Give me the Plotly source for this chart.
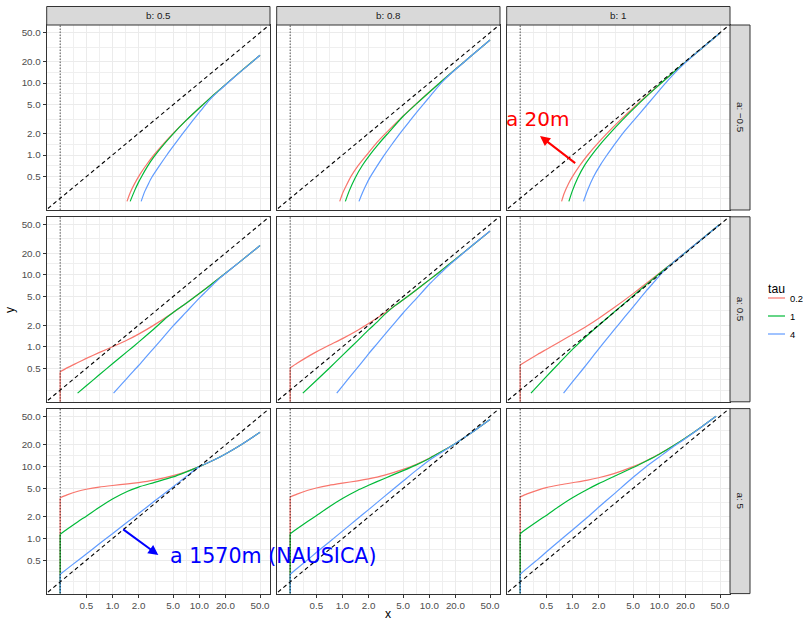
import plotly.graph_objects as go

# ---------------- data ----------------
A_LEVELS = ["a: \u22120.5", "a: 0.5", "a: 5"]
B_LEVELS = ["b: 0.5", "b: 0.8", "b: 1"]
TAU_LEVELS = ["0.2", "1", "4"]
TAU_COLORS = ["#F8766D", "#00BA38", "#619CFF"]

TICK_VALS = [0.5, 1, 2, 5, 10, 20, 50]
TICK_TEXT = ["0.5", "1.0", "2.0", "5.0", "10.0", "20.0", "50.0"]
MINOR_VALS = [0.25, 0.354, 0.707, 1.414, 3.162, 7.071, 14.14, 31.62]

X0_LINE = 0.25            # dotted vertical reference
DIAG = [0.05, 100]        # y = x reference
FLOOR = 0.01              # value below the panel floor (drop at x = 0.25)

# ----- a = -0.5 -----
am_b05_t02_x = [1.47, 1.6, 1.8, 2.1, 2.5, 3.0, 4.0, 5.0, 7.0, 10, 14.5, 20, 30, 50]
am_b05_t02_y = [0.227, 0.30, 0.40, 0.55, 0.75, 1.0, 1.5, 2.0, 3.0, 4.5, 6.75, 9.5, 14.5, 24.3]
am_b05_t1_x = [1.6, 1.8, 2.0, 2.2, 2.5, 3.0, 4.0, 5.0, 7.0, 10, 14.5, 20, 30, 50]
am_b05_t1_y = [0.227, 0.32, 0.42, 0.52, 0.68, 0.94, 1.45, 1.97, 3.0, 4.5, 6.75, 9.5, 14.5, 24.3]
am_b05_t4_x = [2.14, 2.35, 2.6, 2.84, 3.45, 4.23, 5.3, 6.46, 8.3, 10, 11.5, 13, 14.5, 17, 20, 30, 50]
am_b05_t4_y = [0.227, 0.31, 0.4, 0.49, 0.7, 1.0, 1.45, 2.0, 2.95, 3.9, 4.8, 5.75, 6.6, 7.9, 9.4, 14.4, 24.3]

am_b08_t02_x = [0.93, 1.0, 1.1, 1.25, 1.5, 1.9, 2.5, 3.2, 5.0, 7.0, 10, 14.5, 20, 30, 50]
am_b08_t02_y = [0.227, 0.29, 0.37, 0.5, 0.7, 1.0, 1.5, 2.05, 3.5, 5.1, 7.5, 11.1, 15.5, 23.5, 39.5]
am_b08_t1_x = [1.08, 1.2, 1.4, 1.7, 2.1, 2.6, 3.4, 5.0, 7.0, 10, 14.5, 20, 30, 50]
am_b08_t1_y = [0.227, 0.32, 0.48, 0.72, 1.03, 1.42, 2.05, 3.45, 5.05, 7.45, 11.1, 15.5, 23.5, 39.5]
am_b08_t4_x = [1.55, 1.7, 1.9, 2.1, 2.5, 3.0, 3.7, 4.6, 6.0, 7.5, 9.5, 12, 14.5, 17, 20, 30, 50]
am_b08_t4_y = [0.227, 0.3, 0.4, 0.5, 0.7, 0.98, 1.4, 2.0, 3.0, 4.2, 5.9, 8.3, 10.7, 12.9, 15.4, 23.5, 39.5]

am_b1_t02_x = [0.75, 0.8, 0.9, 1.0, 1.2, 1.5, 2.0, 2.5, 3.5, 5.5, 8, 10, 14.5, 20, 30, 50]
am_b1_t02_y = [0.227, 0.29, 0.4, 0.5, 0.7, 1.0, 1.5, 2.0, 3.0, 5.0, 7.5, 9.5, 14, 19.5, 29.5, 49.5]
am_b1_t1_x = [0.91, 1.0, 1.15, 1.4, 1.7, 2.1, 2.7, 3.7, 5.7, 8, 10, 14.5, 20, 30, 50]
am_b1_t1_y = [0.227, 0.32, 0.48, 0.74, 1.03, 1.42, 2.0, 3.0, 5.05, 7.4, 9.45, 14, 19.5, 29.5, 49.5]
am_b1_t4_x = [1.34, 1.5, 1.75, 2.1, 2.5, 3.0, 3.8, 5.0, 7.2, 10, 12.5, 16, 20, 30, 50]
am_b1_t4_y = [0.227, 0.33, 0.5, 0.73, 1.0, 1.36, 2.0, 2.95, 4.95, 7.9, 10.8, 14.9, 19.3, 29.5, 49.5]

# ----- a = 0.5 -----
X_DROP = [0.25, 0.25, 0.3, 0.4, 0.5, 0.7, 1.0, 1.5, 2.0, 3.0, 5.0, 7.0, 10, 14.5, 20, 30, 50]
X_DROP_END = [0.25, 0.25, 0.3, 0.4, 0.5, 0.7, 1.0, 1.5, 2.0, 3.0, 5.0, 7.0, 10, 14.5, 20, 30, 49.5]

ap_b05_t02_y = [FLOOR, 0.45, 0.51, 0.605, 0.69, 0.83, 1.0, 1.25, 1.5, 2.0, 3.0, 4.0, 5.5, 7.75, 10.5, 15.5, 25.5]
ap_b05_t1_x = [0.397, 0.5, 0.7, 1.0, 1.5, 2.0, 3.0, 4.2, 5.0, 7.0, 10, 14.5, 20, 30, 50]
ap_b05_t1_y = [0.227, 0.287, 0.405, 0.58, 0.87, 1.16, 1.77, 2.55, 3.0, 4.0, 5.5, 7.75, 10.5, 15.5, 25.5]
ap_b05_t4_x = [1.03, 1.3, 1.6, 2.0, 2.5, 3.0, 4.0, 5.0, 7.0, 10, 12, 14.5, 17, 20, 30, 50]
ap_b05_t4_y = [0.227, 0.31, 0.41, 0.55, 0.75, 0.96, 1.43, 1.95, 3.0, 4.75, 5.9, 7.4, 8.9, 10.45, 15.5, 25.5]

ap_b08_t02_y = [FLOOR, 0.51, 0.59, 0.73, 0.85, 1.05, 1.3, 1.7, 2.1, 2.9, 4.5, 6.1, 8.5, 12.1, 16.5, 24.5, 40.5]
ap_b08_t1_x = [0.35, 0.5, 0.7, 1.0, 1.5, 2.0, 2.5, 3.0, 4.0, 5.0, 7.0, 10, 14.5, 20, 30, 50]
ap_b08_t1_y = [0.227, 0.34, 0.5, 0.76, 1.22, 1.72, 2.2, 2.75, 3.7, 4.5, 6.1, 8.5, 12.1, 16.5, 24.5, 40.5]
ap_b08_t4_x = [0.86, 1.0, 1.3, 1.6, 2.0, 2.5, 3.0, 4.0, 5.0, 7.0, 10, 12, 14.5, 17, 20, 30, 50]
ap_b08_t4_y = [0.227, 0.285, 0.42, 0.57, 0.8, 1.1, 1.43, 2.15, 2.95, 4.6, 7.4, 9.2, 11.5, 13.7, 16.2, 24.5, 40.5]

ap_b1_t02_y = [FLOOR, 0.56, 0.64, 0.79, 0.92, 1.16, 1.48, 1.98, 2.48, 3.48, 5.48, 7.5, 10.5, 15, 20.5, 30.5, 50]
ap_b1_t1_x = [0.333, 0.5, 0.7, 1.0, 1.5, 2.0, 3.0, 5.0, 7.0, 10, 14.5, 20, 30, 49.5]
ap_b1_t1_y = [0.227, 0.385, 0.59, 0.92, 1.46, 1.98, 3.02, 5.1, 7.2, 10.35, 14.9, 20.4, 30.5, 50]
ap_b1_t4_x = [0.79, 1.0, 1.3, 1.6, 2.0, 2.5, 3.0, 4.0, 5.0, 7.0, 9.0, 10.5, 12, 14.5, 20, 30, 49.5]
ap_b1_t4_y = [0.227, 0.325, 0.48, 0.66, 0.93, 1.3, 1.7, 2.6, 3.6, 5.9, 8.3, 10.3, 12.1, 14.9, 20.5, 30.5, 50]

# ----- a = 5 -----
X_DROP_A5B1 = [0.25, 0.25, 0.3, 0.4, 0.5, 0.7, 1.0, 1.5, 2.0, 3.0, 5.0, 7.0, 10, 14.5, 20, 30, 45]

a5_b05_t02_y = [FLOOR, 3.7, 4.05, 4.55, 4.85, 5.2, 5.47, 5.75, 6.0, 6.5, 7.5, 8.5, 10, 12.25, 15, 20, 30]
a5_b05_t1_y = [FLOOR, 1.15, 1.35, 1.72, 2.05, 2.7, 3.55, 4.55, 5.2, 6.0, 7.2, 8.4, 10, 12.25, 15, 20, 30]
a5_b05_t4_y = [FLOOR, 0.32, 0.38, 0.497, 0.61, 0.84, 1.17, 1.71, 2.23, 3.27, 5.25, 7.22, 10, 12.25, 15, 20, 30]

a5_b08_t02_y = [FLOOR, 3.78, 4.15, 4.7, 5.05, 5.5, 5.9, 6.35, 6.75, 7.55, 9.15, 10.7, 13.1, 16.7, 21, 29, 45]
a5_b08_t1_y = [FLOOR, 1.17, 1.37, 1.74, 2.08, 2.75, 3.6, 4.7, 5.5, 6.8, 8.8, 10.5, 13.0, 16.7, 21, 29, 45]
a5_b08_t4_y = [FLOOR, 0.32, 0.385, 0.51, 0.64, 0.89, 1.27, 1.9, 2.53, 3.8, 6.3, 8.8, 12.3, 16.4, 21, 29, 45]

a5_b1_t02_y = [FLOOR, 3.8, 4.18, 4.72, 5.1, 5.55, 5.97, 6.5, 7.0, 8.0, 10.0, 12.0, 15.0, 19.5, 25, 35, 50]
a5_b1_t1_y = [FLOOR, 1.17, 1.38, 1.76, 2.1, 2.8, 3.7, 4.85, 5.8, 7.3, 9.7, 11.9, 14.9, 19.5, 25, 35, 50]
a5_b1_t4_y = [FLOOR, 0.32, 0.386, 0.515, 0.65, 0.92, 1.32, 2.0, 2.72, 4.15, 7.1, 9.9, 13.6, 18.9, 24.6, 35, 50]

CURVES = [  # row (a) -> column (b) -> tau -> (x, y)
    [
        [(am_b05_t02_x, am_b05_t02_y), (am_b05_t1_x, am_b05_t1_y), (am_b05_t4_x, am_b05_t4_y)],
        [(am_b08_t02_x, am_b08_t02_y), (am_b08_t1_x, am_b08_t1_y), (am_b08_t4_x, am_b08_t4_y)],
        [(am_b1_t02_x, am_b1_t02_y), (am_b1_t1_x, am_b1_t1_y), (am_b1_t4_x, am_b1_t4_y)],
    ],
    [
        [(X_DROP, ap_b05_t02_y), (ap_b05_t1_x, ap_b05_t1_y), (ap_b05_t4_x, ap_b05_t4_y)],
        [(X_DROP, ap_b08_t02_y), (ap_b08_t1_x, ap_b08_t1_y), (ap_b08_t4_x, ap_b08_t4_y)],
        [(X_DROP_END, ap_b1_t02_y), (ap_b1_t1_x, ap_b1_t1_y), (ap_b1_t4_x, ap_b1_t4_y)],
    ],
    [
        [(X_DROP, a5_b05_t02_y), (X_DROP, a5_b05_t1_y), (X_DROP, a5_b05_t4_y)],
        [(X_DROP, a5_b08_t02_y), (X_DROP, a5_b08_t1_y), (X_DROP, a5_b08_t4_y)],
        [(X_DROP_A5B1, a5_b1_t02_y), (X_DROP_A5B1, a5_b1_t1_y), (X_DROP_A5B1, a5_b1_t4_y)],
    ],
]

# ---------------- layout geometry (pixels) ----------------
W, H = 803, 622
COL_X = [(46.7, 270.0), (276.7, 500.0), (506.7, 730.0)]
ROW_Y = [(25.0, 210.0), (216.8, 401.8), (408.6, 593.6)]
XR = [-0.757, 1.814]
YR = [-0.764, 1.806]

def px(x):
    return x / W

def py(y):
    return 1 - y / H

FONT = "Liberation Sans, Arial, sans-serif"
CALLOUT_FONT = "DejaVu Sans, sans-serif"
fig = go.Figure()
layout = dict(
    template="none",
    width=W, height=H, margin=dict(l=0, r=0, t=0, b=0, pad=0, autoexpand=False),
    paper_bgcolor="white", plot_bgcolor="white", showlegend=False,
    font=dict(family=FONT, color="#000000"),
)
shapes, annotations = [], []


def label(x, y, text, size, color="#000000", xanchor="center", angle=0, family=FONT):
    annotations.append(dict(xref="paper", yref="paper", x=px(x), y=py(y), text=text,
                            showarrow=False, xanchor=xanchor, yanchor="middle",
                            textangle=angle, borderpad=0,
                            font=dict(size=size, color=color, family=family)))


for r in range(3):
    for c in range(3):
        k = r * 3 + c + 1
        xa = "x" if k == 1 else f"x{k}"
        ya = "y" if k == 1 else f"y{k}"
        for t in range(3):
            xs, ys = CURVES[r][c][t]
            start = 0
            if xs[0] == xs[1]:
                # vertical drop at the start (value falls to the panel floor)
                fig.add_trace(go.Scatter(x=xs[:2], y=ys[:2], mode="lines", xaxis=xa,
                                         yaxis=ya, line=dict(color=TAU_COLORS[t], width=1.2),
                                         hoverinfo="skip"))
                start = 1
            fig.add_trace(go.Scatter(x=xs[start:], y=ys[start:], mode="lines", xaxis=xa,
                                     yaxis=ya,
                                     line=dict(color=TAU_COLORS[t], width=1.2,
                                               shape="spline", smoothing=0.6),
                                     name=TAU_LEVELS[t], hoverinfo="skip"))
        fig.add_trace(go.Scatter(x=DIAG, y=DIAG, mode="lines", xaxis=xa, yaxis=ya,
                                 line=dict(color="black", width=1.1, dash="4px,3px"),
                                 hoverinfo="skip"))
        fig.add_trace(go.Scatter(x=[X0_LINE, X0_LINE], y=[0.05, 100], mode="lines",
                                 xaxis=xa, yaxis=ya,
                                 line=dict(color="black", width=1, dash="1px,2px"),
                                 hoverinfo="skip"))
        x0, x1 = COL_X[c]
        y0, y1 = ROW_Y[r]
        axcommon = dict(type="log", showline=True, mirror=True, linecolor="#333333",
                        linewidth=1, zeroline=False, showgrid=True, gridcolor="#EBEBEB",
                        gridwidth=1.1, tickvals=TICK_VALS, ticktext=TICK_TEXT,
                        tickfont=dict(size=9.8, color="#4D4D4D", family=FONT),
                        minor=dict(tickvals=MINOR_VALS, showgrid=True, gridcolor="#EFEFEF",
                                   gridwidth=0.7, ticks=""),
                        automargin=False, fixedrange=True)
        xname = "xaxis" if k == 1 else f"xaxis{k}"
        yname = "yaxis" if k == 1 else f"yaxis{k}"
        layout[xname] = dict(axcommon, domain=[px(x0), px(x1)], range=XR,
                             anchor=ya, showticklabels=(r == 2),
                             ticks="outside" if r == 2 else "", ticklen=3,
                             tickcolor="#333333")
        layout[yname] = dict(axcommon, domain=[py(y1), py(y0)], range=YR,
                             anchor=xa, showticklabels=(c == 0),
                             ticks="outside" if c == 0 else "", ticklen=3,
                             tickcolor="#333333")

# strips
for c in range(3):
    x0, x1 = COL_X[c]
    shapes.append(dict(type="rect", xref="paper", yref="paper", x0=px(x0), x1=px(x1),
                       y0=py(25.0), y1=py(6.5), fillcolor="#D9D9D9",
                       line=dict(color="#333333", width=1), layer="above"))
    label((x0 + x1) / 2, 15.8, B_LEVELS[c], 9.8, "#1A1A1A")
for r in range(3):
    y0, y1 = ROW_Y[r]
    shapes.append(dict(type="rect", xref="paper", yref="paper", x0=px(730.0), x1=px(750.0),
                       y0=py(y1), y1=py(y0), fillcolor="#D9D9D9",
                       line=dict(color="#333333", width=1), layer="above"))
    label(740.5, (y0 + y1) / 2, A_LEVELS[r], 9.8, "#1A1A1A", angle=90)

# axis titles
label(388, 614, "x", 12.2)
label(10, 310, "y", 12.2, angle=-90)

# legend (manual)
label(767, 289, "tau", 12.2, xanchor="left")
for t in range(3):
    yy = 298 + 18 * t
    shapes.append(dict(type="line", xref="paper", yref="paper", x0=px(768), x1=px(785),
                       y0=py(yy), y1=py(yy), line=dict(color=TAU_COLORS[t], width=1.2)))
    label(788.5, yy, TAU_LEVELS[t], 9.4, xanchor="left")

# call-outs
label(505, 118.5, "a 20m", 20, "#FF0000", xanchor="left", family=CALLOUT_FONT)
annotations.append(dict(xref="paper", yref="paper", x=px(540), y=py(136), text="",
                        showarrow=True, ax=36.7, ay=28.3, arrowhead=2, arrowsize=1,
                        arrowwidth=2, arrowcolor="#FF0000"))
label(168.5, 556, "a 1570m (NAUSICA)", 20.6, "#0000FF", xanchor="left",
      family=CALLOUT_FONT)
annotations.append(dict(xref="paper", yref="paper", x=px(158.3), y=py(555), text="",
                        showarrow=True, ax=-36.6, ay=-26.7, arrowhead=2, arrowsize=1,
                        arrowwidth=2, arrowcolor="#0000FF"))

layout["shapes"] = shapes
layout["annotations"] = annotations
fig.update_layout(**layout)
fig.write_html("out.html", config={"displayModeBar": False},
               post_script="document.body.style.margin='0px';")
